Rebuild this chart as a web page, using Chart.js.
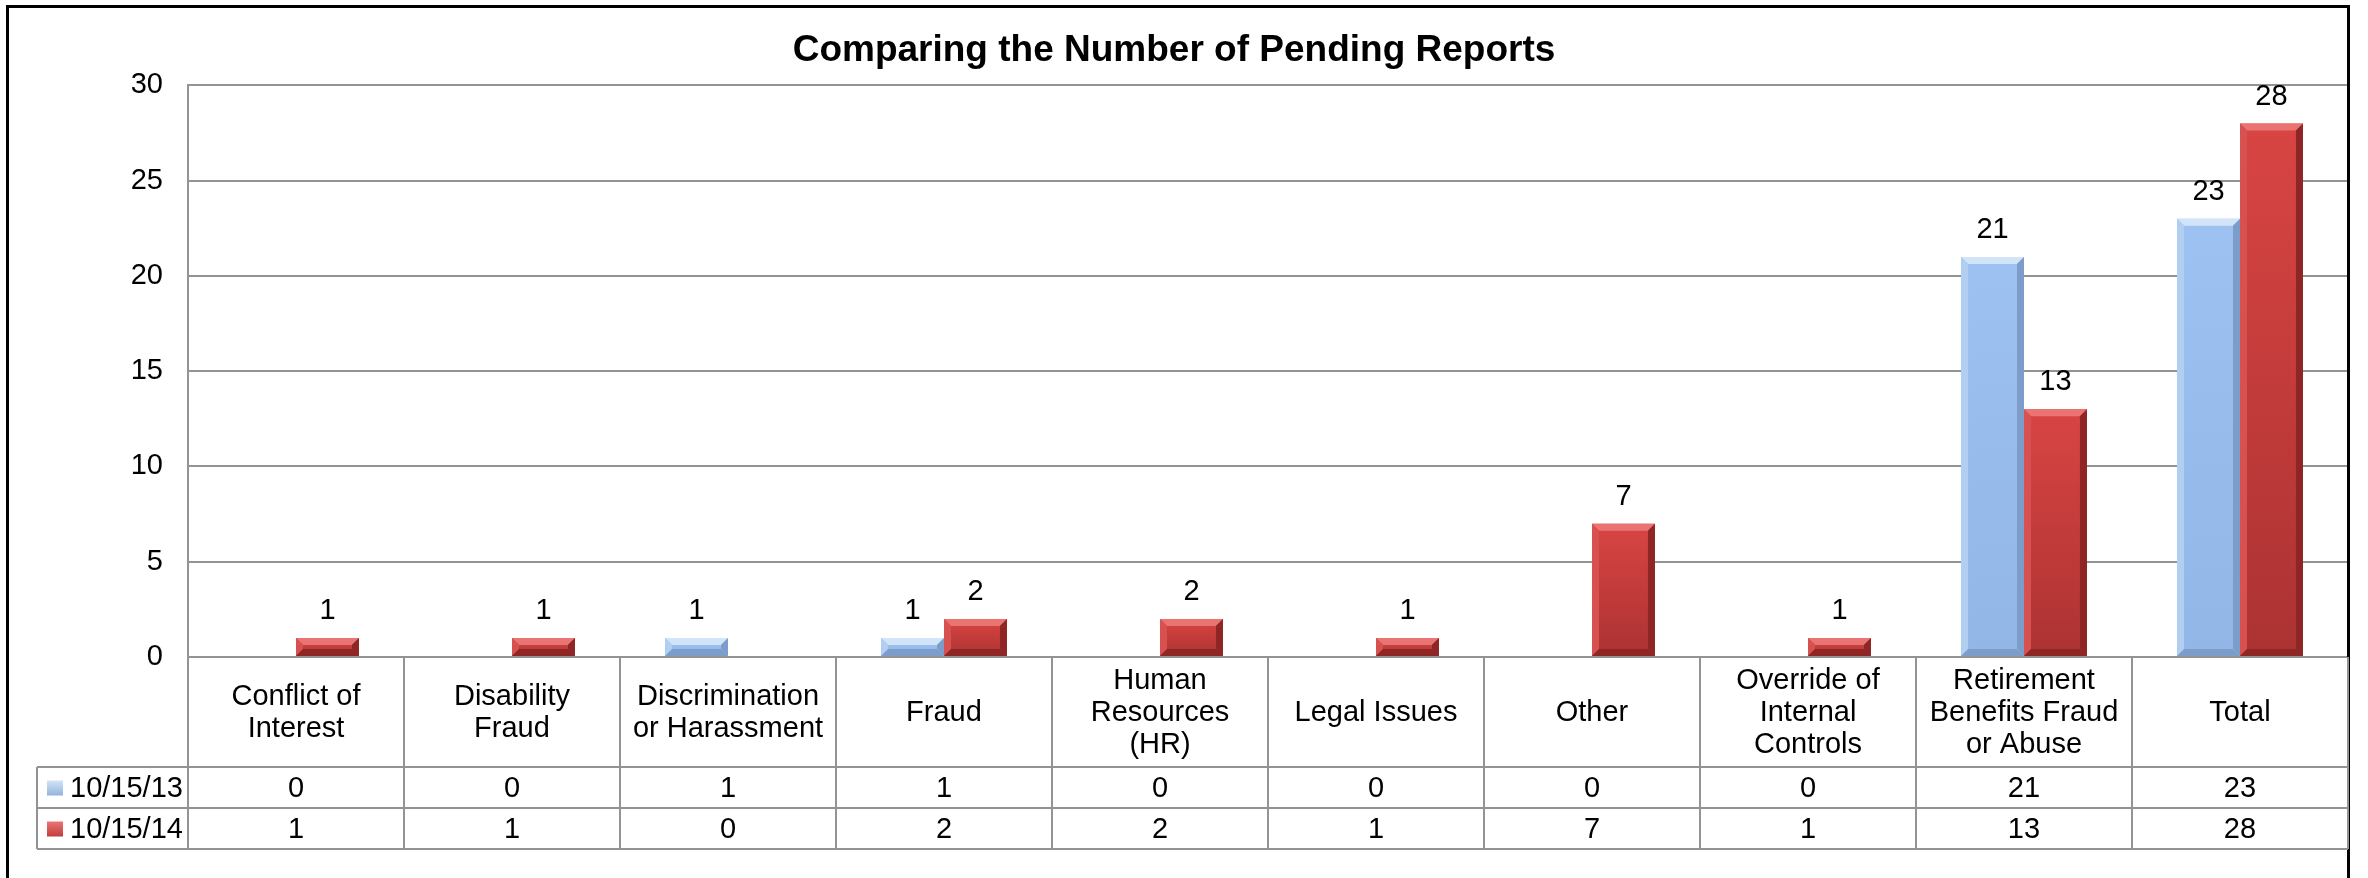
<!DOCTYPE html>
<html>
<head>
<meta charset="utf-8">
<title>Comparing the Number of Pending Reports</title>
<script src="https://cdn.jsdelivr.net/npm/chart.js@4.4.1/dist/chart.umd.min.js"></script>
<style>
  html, body { margin: 0; padding: 0; background: #fff; }
  #wrap { width: 2368px; height: 878px; position: relative; }
</style>
</head>
<body>
<div id="wrap"><canvas id="pendingChart"></canvas></div>
<script>
// categories (multi-line labels as shown in the data table)
const categories = [
  ['Conflict of', 'Interest'],
  ['Disability', 'Fraud'],
  ['Discrimination', 'or Harassment'],
  ['Fraud'],
  ['Human', 'Resources', '(HR)'],
  ['Legal Issues'],
  ['Other'],
  ['Override of', 'Internal', 'Controls'],
  ['Retirement', 'Benefits Fraud', 'or Abuse'],
  ['Total']
];
const seriesNames = ['10/15/13', '10/15/14'];
const pending2013 = [0, 0, 1, 1, 0, 0, 0, 0, 21, 23];
const pending2014 = [1, 1, 0, 2, 2, 1, 7, 1, 13, 28];
const yMin = 0, yMax = 30, yStep = 5;

const FONT = 'Liberation Sans, Arial, sans-serif';
const TXT = 29;
const GRID = '#939393';

const palette = [
  { top: '#9dc2f1', bottom: '#92b7e6', hi: '#d2e4f8', side: '#b2cff2', dark: '#7c9dca', legend: '#8fb0da' },
  { top: '#d84543', bottom: '#ac3232', hi: '#ea7472', side: '#d65150', dark: '#8f2626', legend: '#c03a3a' }
];

// per-bar vertical gradient, uses the y scale for the bar extent
function barFill(ctx, p) {
  const chart = ctx.chart;
  const ys = chart.scales.y;
  if (!chart.chartArea || !ys || ctx.parsed === undefined) return p.top;
  const y0 = ys.getPixelForValue(0);
  const y1 = ys.getPixelForValue(ctx.parsed.y);
  if (!isFinite(y1) || y1 === y0) return p.top;
  const g = chart.ctx.createLinearGradient(0, y1, 0, y0);
  g.addColorStop(0, p.top);
  g.addColorStop(1, p.bottom);
  return g;
}

// bevel edges like the original office chart
const bevelPlugin = {
  id: 'bevel',
  afterDatasetsDraw(chart) {
    const c = chart.ctx;
    chart.data.datasets.forEach((ds, i) => {
      const p = palette[i];
      chart.getDatasetMeta(i).data.forEach((bar, j) => {
        if (!ds.data[j]) return;
        const { x, y, base, width } = bar.getProps(['x', 'y', 'base', 'width'], true);
        const l = x - width / 2, r = x + width / 2;
        const b = Math.min(7, (base - y) / 2);
        c.save();
        c.fillStyle = p.hi;
        c.beginPath(); c.moveTo(l, y); c.lineTo(r, y); c.lineTo(r - b, y + b); c.lineTo(l + b, y + b); c.closePath(); c.fill();
        c.fillStyle = p.side;
        c.beginPath(); c.moveTo(l, y); c.lineTo(l + b, y + b); c.lineTo(l + b, base - b); c.lineTo(l, base); c.closePath(); c.fill();
        c.fillStyle = p.dark;
        c.beginPath(); c.moveTo(r, y); c.lineTo(r - b, y + b); c.lineTo(r - b, base - b); c.lineTo(r, base); c.closePath(); c.fill();
        c.beginPath(); c.moveTo(l, base); c.lineTo(l + b, base - b); c.lineTo(r - b, base - b); c.lineTo(r, base); c.closePath(); c.fill();
        c.restore();
      });
    });
  }
};

// value labels above the non-zero bars
const valueLabels = {
  id: 'valueLabels',
  afterDatasetsDraw(chart) {
    const c = chart.ctx;
    c.save();
    c.font = TXT + 'px ' + FONT;
    c.fillStyle = '#000';
    c.textAlign = 'center';
    c.textBaseline = 'alphabetic';
    chart.data.datasets.forEach((ds, i) => {
      chart.getDatasetMeta(i).data.forEach((bar, j) => {
        const v = ds.data[j];
        if (!v) return;
        c.fillText(String(v), bar.x, bar.y - 19);
      });
    });
    c.restore();
  }
};

// data table under the plot (category row + one row per series)
const dataTable = {
  id: 'dataTable',
  afterDraw(chart) {
    const c = chart.ctx;
    const xs = chart.scales.x;
    const area = chart.chartArea;
    const n = categories.length;
    const half = (xs.getPixelForValue(1) - xs.getPixelForValue(0)) / 2;
    const top = area.bottom;
    const rows = [top, top + 110, top + 151, top + 192];
    const legendLeft = 37;

    c.save();
    c.strokeStyle = GRID;
    c.lineWidth = 2;
    c.beginPath();
    for (let i = 0; i <= n; i++) {
      const bx = i < n ? xs.getPixelForValue(i) - half : area.right;
      c.moveTo(bx, rows[0]); c.lineTo(bx, rows[3]);
    }
    for (let k = 1; k < rows.length; k++) {
      c.moveTo(legendLeft, rows[k]); c.lineTo(area.right, rows[k]);
    }
    c.moveTo(legendLeft, rows[1]); c.lineTo(legendLeft, rows[3]);
    c.stroke();

    c.fillStyle = '#000';
    c.font = TXT + 'px ' + FONT;
    c.textAlign = 'center';
    c.textBaseline = 'middle';
    const lh = 32;
    categories.forEach((lines, i) => {
      const cx = xs.getPixelForValue(i);
      const cy = (rows[0] + rows[1]) / 2 - (lines.length - 1) * lh / 2;
      lines.forEach((t, k) => c.fillText(t, cx, cy + k * lh + 1));
    });

    chart.data.datasets.forEach((ds, s) => {
      const cy = (rows[s + 1] + rows[s + 2]) / 2 + 1;
      ds.data.forEach((v, i) => c.fillText(String(v), xs.getPixelForValue(i), cy));
      // legend key
      const p = palette[s];
      const g = c.createLinearGradient(0, cy - 8, 0, cy + 8);
      g.addColorStop(0, p.hi);
      g.addColorStop(1, p.legend);
      c.fillStyle = g;
      c.fillRect(47, cy - 8, 16, 15);
      c.fillStyle = '#000';
      c.textAlign = 'left';
      c.fillText(ds.label, 70, cy);
      c.textAlign = 'center';
    });
    c.restore();
  }
};

// white background and the black frame
const frame = {
  id: 'frame',
  beforeDraw(chart) {
    const c = chart.ctx;
    c.save();
    c.fillStyle = '#fff';
    c.fillRect(0, 0, chart.width, chart.height);
    c.restore();
  },
  afterDraw(chart) {
    const c = chart.ctx;
    c.save();
    c.strokeStyle = '#000';
    c.lineWidth = 3;
    c.strokeRect(7.5, 6.5, 2341, 900);
    c.restore();
  }
};

const ctx = document.getElementById('pendingChart').getContext('2d');
new Chart(ctx, {
  type: 'bar',
  data: {
    labels: categories,
    datasets: [{
      label: seriesNames[0],
      data: pending2013,
      backgroundColor: c => barFill(c, palette[0]),
      borderWidth: 0
    }, {
      label: seriesNames[1],
      data: pending2014,
      backgroundColor: c => barFill(c, palette[1]),
      borderWidth: 0
    }]
  },
  options: {
    responsive: true,
    maintainAspectRatio: false,
    animation: false,
    categoryPercentage: 0.583,
    barPercentage: 1,
    layout: { padding: { left: 0, right: 20, top: 0, bottom: 221 } },
    plugins: {
      legend: { display: false },
      tooltip: { enabled: false },
      title: {
        display: true,
        text: 'Comparing the Number of Pending Reports',
        color: '#000',
        font: { size: 37, weight: 'bold', family: FONT, lineHeight: 1.2 },
        padding: { top: 29, bottom: 12 }
      }
    },
    scales: {
      x: { display: false },
      y: {
        min: yMin,
        max: yMax,
        afterFit: s => { s.width = 188; },
        border: { display: true, color: GRID, width: 2 },
        grid: { color: GRID, lineWidth: 2, drawTicks: false },
        ticks: { stepSize: yStep, padding: 25, color: '#000', font: { size: TXT, family: FONT } }
      }
    }
  },
  plugins: [frame, bevelPlugin, valueLabels, dataTable]
});
</script>
</body>
</html>
